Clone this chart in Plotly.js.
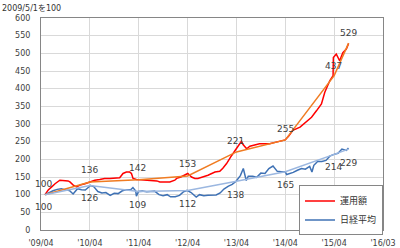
<!DOCTYPE html>
<html><head><meta charset="utf-8">
<script src="https://cdn.plot.ly/plotly-3.0.1.min.js"></script>
<style>html,body{margin:0;padding:0;background:#fff}#chart{width:400px;height:248px}</style>
</head><body><div id="chart"></div>
<script>
const chartTitle = "2009/5/1を100";
const seriesNames = ["運用額", "日経平均"];
const tickDates = ["2009-04-01","2010-04-01","2011-04-01","2012-04-01","2013-04-01","2014-04-01","2015-04-01","2016-03-31"];
const tickLabels = ["'09/04","'10/04","'11/04","'12/04","'13/04","'14/04","'15/04","'16/03"];

const fundDates = ["2009-05-01","2009-05-25","2009-06-20","2009-07-15","2009-08-20","2009-09-27","2009-10-20","2009-11-03","2009-11-28","2009-12-23",
"2010-01-17","2010-02-24","2010-04-01","2010-05-08","2010-06-14","2010-07-20","2010-08-29","2010-10-05","2010-11-10","2010-12-05","2010-12-30",
"2011-01-24","2011-02-06","2011-02-18","2011-03-15","2011-04-15","2011-05-16","2011-07-18","2011-08-15","2011-09-06","2011-10-15","2011-11-20","2011-12-27",
"2012-01-10","2012-02-10","2012-03-11","2012-04-02","2012-04-30","2012-05-25","2012-06-17","2012-07-20","2012-08-31","2012-10-22","2012-11-27","2012-12-20",
"2013-01-17","2013-02-24","2013-03-15","2013-04-01","2013-05-08","2013-05-20","2013-06-16","2013-07-10","2013-08-15","2013-09-20","2013-10-30","2013-12-05",
"2014-01-15","2014-02-19","2014-03-31","2014-04-25","2014-05-27","2014-07-20","2014-09-05","2014-10-14","2014-11-21","2014-12-27",
"2015-01-21","2015-02-05","2015-02-28","2015-03-24","2015-03-26","2015-04-17","2015-05-12","2015-06-05","2015-07-01","2015-07-18"];
const fundValues = [100,113,122,131,141,141,139,136,127,122,
127,131,136,141,143,146,146,146,148,160,164,
164,160,146,143,142,141,141,139,136,136,136,141,
146,150,155,160,150,146,146,150,155,164,166,175,
188,211,221,232,251,242,230,237,240,244,244,244,
248,252,255,265,282,291,305,319,338,357,
390,404,423,437,488,498,479,502,512,528];

const nikkeiDates = ["2009-05-01","2009-05-29","2009-06-30","2009-07-31","2009-08-31","2009-09-30","2009-10-30","2009-11-27","2009-12-30",
"2010-01-29","2010-02-26","2010-03-31","2010-04-05","2010-04-30","2010-05-31","2010-06-30","2010-07-30","2010-08-31","2010-09-30","2010-10-29","2010-11-30","2010-12-30",
"2011-01-31","2011-02-17","2011-03-10","2011-03-15","2011-03-31","2011-04-28","2011-05-31","2011-06-30","2011-07-29","2011-08-31","2011-09-30","2011-10-31","2011-11-25","2011-12-30",
"2012-01-31","2012-02-29","2012-03-27","2012-04-27","2012-05-31","2012-06-04","2012-06-29","2012-07-31","2012-08-31","2012-09-28","2012-10-31","2012-11-30","2012-12-28",
"2013-01-31","2013-02-28","2013-03-29","2013-04-30","2013-05-22","2013-06-13","2013-06-28","2013-07-31","2013-08-30","2013-09-30","2013-10-31","2013-11-29","2013-12-30",
"2014-01-31","2014-02-28","2014-03-31","2014-04-11","2014-04-30","2014-05-30","2014-06-30","2014-07-31","2014-08-29","2014-09-30","2014-10-17","2014-10-31","2014-11-28","2014-12-30",
"2015-01-30","2015-02-27","2015-03-31","2015-04-30","2015-05-29","2015-06-30","2015-07-17"];
const nikkeiValues = [100,106,111,115,117,113,112,102,117,
114,113,124,126,123,109,105,106,98,104,103,111,114,
114,120,110,96,109,110,108,109,110,100,97,100,94,94,
98,108,112,106,95,93,100,97,98,99,99,105,116,
124,129,138,154,174,140,152,152,149,161,160,174,181,
166,165,165,157,159,163,169,174,172,180,164,183,194,194,
197,209,214,217,229,225,232];

const trendDates = ["2009-05-01","2010-04-01","2011-04-01","2012-04-01","2013-04-01","2014-04-01","2015-04-01","2015-07-18"];
const fundTrend = [100,136,142,153,221,255,437,529];
const nikkeiTrend = [100,126,109,112,138,165,214,229];

const fundLabelText = ["100","136","142","153","221","255","437","529"];
const fundLabelDates = ["2009-04-21","2010-03-30","2011-03-20","2012-03-28","2013-03-25","2014-03-30","2015-03-24","2015-07-18"];
const fundLabelY = [131,169,175,186,253,287,465,557];
const nikkeiLabelText = ["100","126","109","112","138","165","214","229"];
const nikkeiLabelDates = ["2009-04-18","2010-03-30","2011-03-20","2012-03-28","2013-03-26","2014-03-30","2015-03-24","2015-07-18"];
const nikkeiLabelY = [64,90,70,75,100,127,177,191];

const traces = [
  {x: fundDates, y: fundValues, name: seriesNames[0], type: "scatter", mode: "lines", line: {color: "#ff0000", width: 1.5}},
  {x: nikkeiDates, y: nikkeiValues, name: seriesNames[1], type: "scatter", mode: "lines", line: {color: "#3f72b5", width: 1.5}},
  {x: trendDates, y: fundTrend, type: "scatter", mode: "lines", showlegend: false, hoverinfo: "skip", line: {color: "#f07c22", width: 1.5}},
  {x: trendDates, y: nikkeiTrend, type: "scatter", mode: "lines", showlegend: false, hoverinfo: "skip", line: {color: "#9bb7e0", width: 1.5}}
];

const annotations = [];
fundLabelText.forEach((t, i) => annotations.push({x: fundLabelDates[i], y: fundLabelY[i], text: t, showarrow: false, font: {size: 9, color: "#404040", family: "DejaVu Sans"}, xanchor: "center", yanchor: "middle"}));
nikkeiLabelText.forEach((t, i) => annotations.push({x: nikkeiLabelDates[i], y: nikkeiLabelY[i], text: t, showarrow: false, font: {size: 9, color: "#404040", family: "DejaVu Sans"}, xanchor: "center", yanchor: "middle"}));

const layout = {
  width: 400, height: 248,
  margin: {l: 41, r: 17, t: 18, b: 18, pad: 0},
  paper_bgcolor: "#ffffff", plot_bgcolor: "#ffffff",
  font: {family: "DejaVu Sans", size: 8, color: "#404040"},
  title: {text: chartTitle, x: 0.005, xanchor: "left", y: 0.965, yanchor: "middle", font: {size: 8, color: "#333333", family: "DejaVu Sans, Noto Sans CJK JP"}},
  xaxis: {type: "date", range: [tickDates[0], tickDates[tickDates.length - 1]], tickmode: "array", tickvals: tickDates, ticktext: tickLabels,
    showgrid: true, gridcolor: "#d9d9d9", gridwidth: 1, showline: true, linecolor: "#868686", linewidth: 1, mirror: true,
    ticks: "", ticklabelstandoff: 5, tickfont: {size: 8, color: "#404040"}, zeroline: false, fixedrange: true},
  yaxis: {range: [0, 600], tickmode: "linear", tick0: 0, dtick: 50,
    showgrid: true, gridcolor: "#d9d9d9", gridwidth: 1, showline: true, linecolor: "#868686", linewidth: 1, mirror: true,
    ticks: "", ticklabelstandoff: 8, tickfont: {size: 8, color: "#404040"}, zeroline: false, fixedrange: true},
  legend: {x: 1, xanchor: "right", y: 0.21, yanchor: "top", bgcolor: "#ffffff", bordercolor: "#868686", borderwidth: 1,
    font: {size: 9, family: "Noto Sans CJK JP", color: "#333333"}, tracegroupgap: 0, itemwidth: 30},
  annotations: annotations,
  showlegend: true
};
Plotly.newPlot("chart", traces, layout, {displayModeBar: false, staticPlot: true});
</script></body></html>
